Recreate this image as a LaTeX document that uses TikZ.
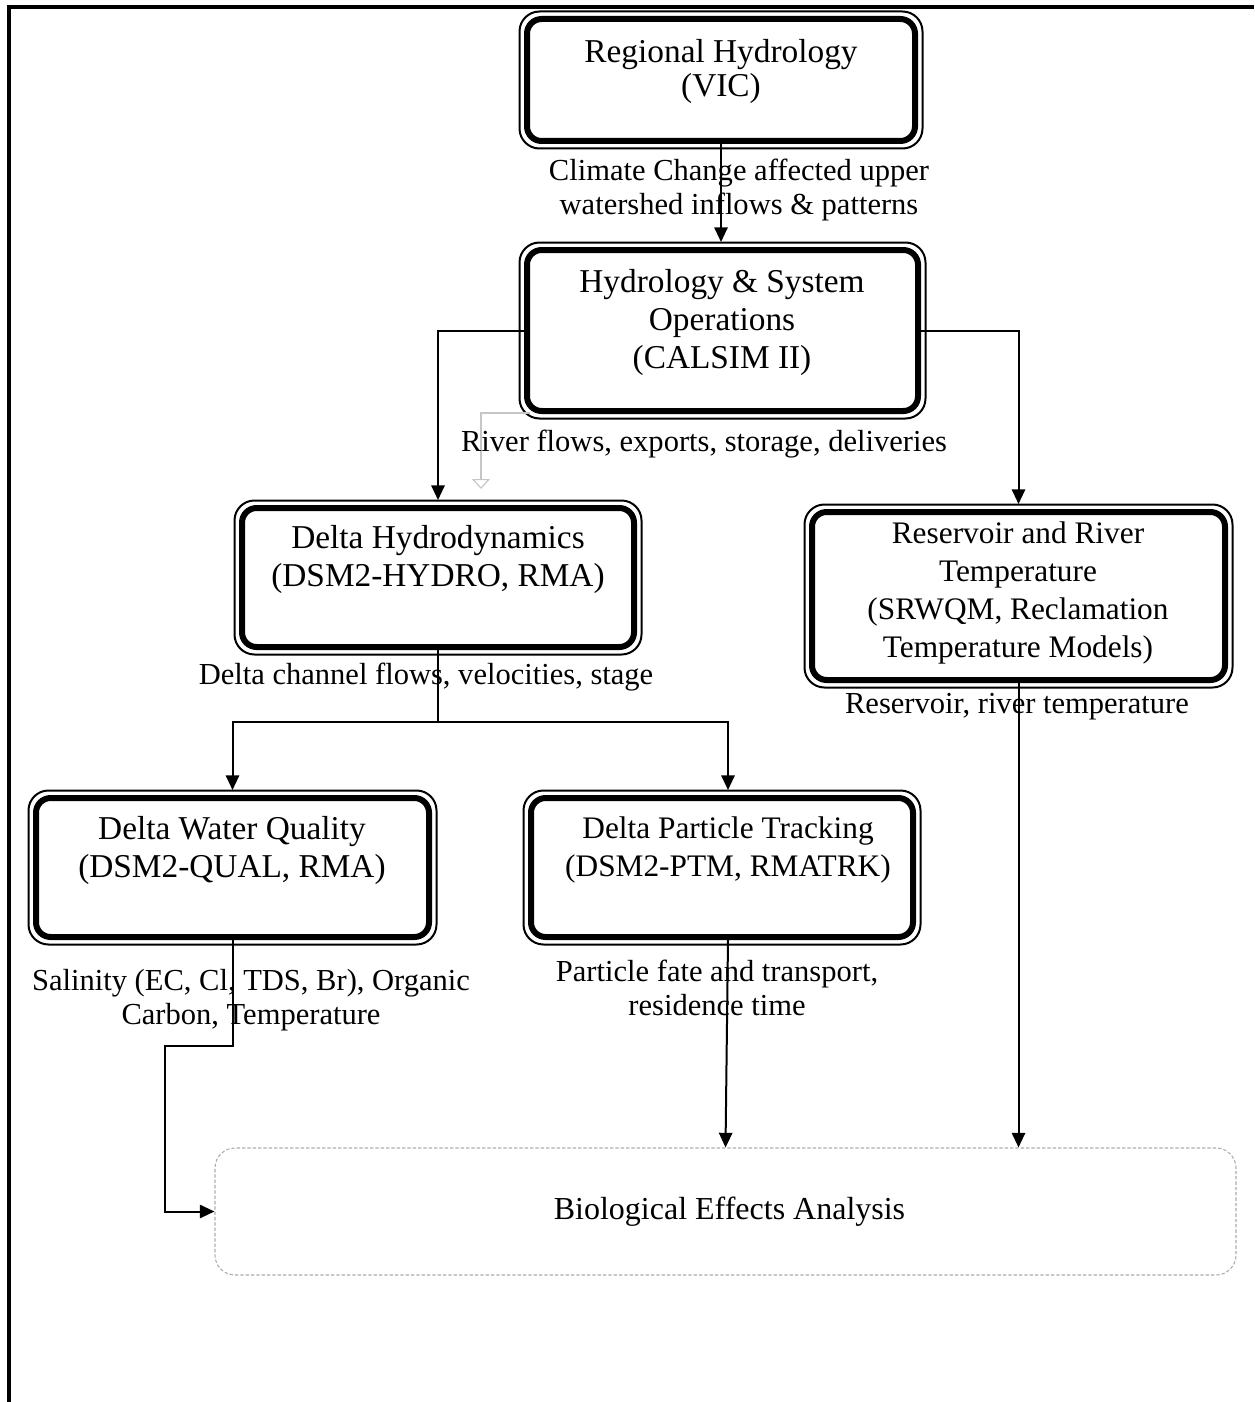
\documentclass[tikz,border=0pt]{standalone}
\usepackage{fontspec}
\setmainfont{Liberation Serif}
\usetikzlibrary{arrows.meta,calc}
\begin{document}
\begin{tikzpicture}[x=0.75pt,y=-0.75pt,
  conn/.style={line width=1.5pt, -{Triangle[length=11pt,width=10pt]}},
  mbox/.style={draw, line width=4.5pt, rounded corners=11pt, inner sep=0pt},
  ring/.style={line width=1.5pt, rounded corners=15pt},
  btext/.style={align=center, font=\fontsize{25}{28.5}\selectfont, inner sep=0pt},
  btextn/.style={align=center, font=\fontsize{23.5}{28.5}\selectfont, inner sep=0pt},
  lab/.style={align=center, font=\fontsize{22.9}{25.5}\selectfont, inner sep=0pt},
  biobox/.style={draw=gray!65, line width=0.8pt, dash pattern=on 2.5pt off 1.5pt, rounded corners=15pt,
    font=\fontsize{24}{28}\selectfont, inner sep=0pt},
  hollow/.style={draw=gray!45, line width=0.9pt, -{Triangle[open,length=7.5pt,width=13.5pt]}}
]
\newcommand\ringbox[1]{\draw[ring] ($(#1.north west)+(-4.5,-4.5)$) rectangle ($(#1.south east)+(4.5,4.5)$);}
\useasboundingbox (0,0) rectangle (1254,1402);
\draw[line width=2.3pt] (9,1402) -- (9,7) -- (1254,7);

% boxes
\node[mbox, minimum width=291pt, minimum height=91.5pt] (vic) at (721,80) {};
\node[mbox, minimum width=293.25pt, minimum height=120.75pt] (hyd) at (722.5,330.5) {};
\node[mbox, minimum width=294pt, minimum height=104.25pt] (dh) at (438,577.5) {};
\node[mbox, minimum width=309.75pt, minimum height=126pt] (res) at (1018.5,596) {};
\node[mbox, minimum width=294.75pt, minimum height=104.25pt] (wq) at (232.5,867.5) {};
\node[mbox, minimum width=286.5pt, minimum height=104.25pt] (pt) at (722,867.5) {};
\foreach \b in {vic,hyd,dh,res,wq,pt} {\ringbox{\b}}
\node[biobox, minimum width=765.75pt, minimum height=95.25pt] (bio) at (725.5,1211.5) {\hspace*{6pt}Biological Effects Analysis};

% box texts
\node[btext, font=\fontsize{25}{25.5}\selectfont] (vict) at (721,71) {Regional Hydrology\\(VIC)};
\node[btext] (hydt) at (722,322) {Hydrology \& System\\Operations\\(CALSIM II)};
\node[btext] (dht) at (438,559) {Delta Hydrodynamics\\(DSM2-HYDRO, RMA)};
\node[btextn] (rest) at (1018,593) {Reservoir and River\\Temperature\\(SRWQM, Reclamation\\Temperature Models)};
\node[btext] (wqt) at (232,850) {Delta Water Quality\\(DSM2-QUAL, RMA)};
\node[btextn] (ptt) at (728,850) {Delta Particle Tracking\\(DSM2-PTM, RMATRK)};

% connectors
\draw[conn, shorten >=3.75pt] (vic.south) -- (vic.south |- hyd.north);
\draw[conn, shorten >=3.75pt] (hyd.west) -| (dh.north);
\draw[conn, shorten >=3.75pt] (hyd.east) -| (res.north);
\coordinate (rfend) at (481,489);
\draw[hollow] ($(hyd.south west)+(6,-1)$) -| (rfend);
\coordinate (split) at (438,722);
\draw[line width=1.5pt] (dh.south) -- (split);
\draw[conn, shorten >=3.75pt] (split) -| (wq.north);
\draw[conn, shorten >=3.75pt] (split) -| ($(pt.north)+(6,0)$);
\draw[conn] (res.south) -- (res.south |- bio.north);
\draw[conn] ($(pt.south)+(6,0)$) -- (bio.north);
\coordinate (c1) at (165,1046);
\draw[conn] (wq.south) |- (c1) |- (bio.west);

% labels
\node[lab] (l1) at (739,190) {Climate Change affected upper\\watershed inflows \& patterns};
\node[lab] (l2) at (704,444) {River flows, exports, storage, deliveries};
\node[lab] (l3) at (426,677) {Delta channel flows, velocities, stage};
\node[lab] (l4) at (1017,707) {Reservoir, river temperature};
\node[lab] (l5) at (251,1000) {Salinity (EC, Cl, TDS, Br), Organic\\Carbon, Temperature};
\node[lab] (l6) at (717,988) {Particle fate and transport,\\residence time};
\end{tikzpicture}
\end{document}
